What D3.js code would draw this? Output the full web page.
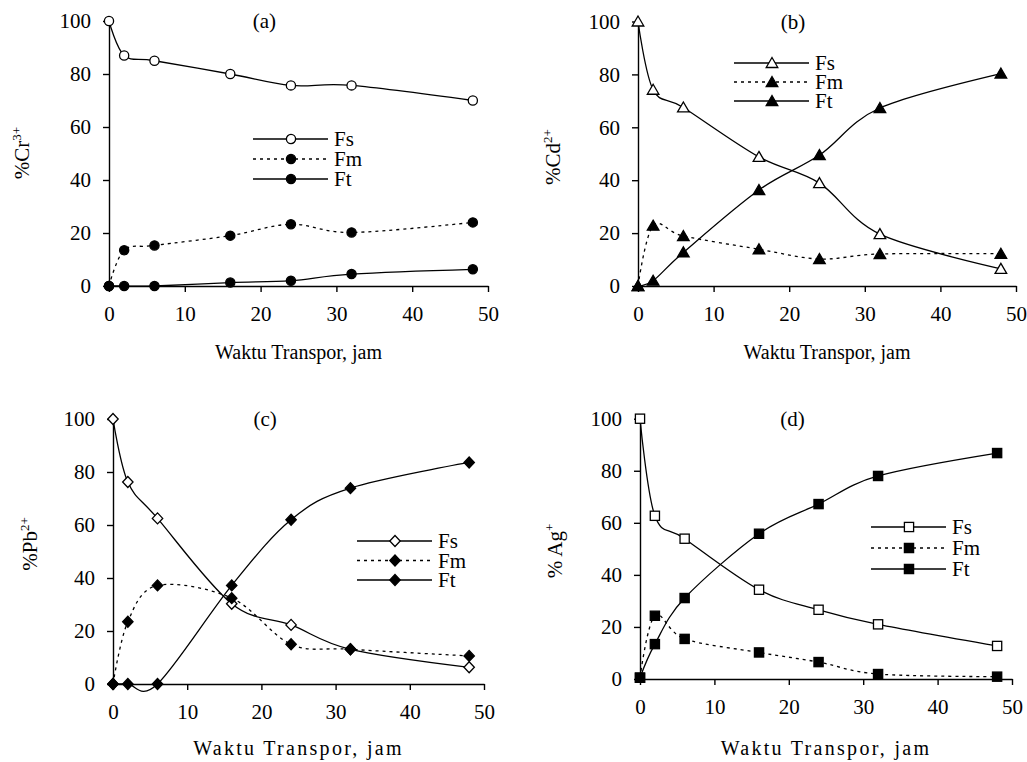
<!DOCTYPE html>
<html>
<head>
<meta charset="utf-8">
<script src="https://cdn.jsdelivr.net/npm/d3@7"></script>
<style>
  body { margin: 0; background: #fff; }
  svg { display: block; }
</style>
</head>
<body>
<svg class="chart" width="1027" height="762"></svg>
<script>
const FONT = "'Liberation Serif', 'Times New Roman', serif";

// data
const times = [0, 2, 6, 16, 24, 32, 48];
const seriesNames = ["Fs", "Fm", "Ft"];
const xTicks = [0, 10, 20, 30, 40, 50];
const yTicks = [0, 20, 40, 60, 80, 100];
const panelLabels = ["(a)", "(b)", "(c)", "(d)"];
const ionNames = ["Cr", "Cd", "Pb", "Ag"];
const ionCharges = ["3+", "2+", "2+", "+"];
const xTitle = "Waktu Transpor, jam";

const crFs = [100, 87, 85, 80, 75.7, 75.7, 70];
const crFm = [0, 13.5, 15.3, 19, 23.3, 20.2, 24];
const crFt = [0, 0, 0, 1.3, 2, 4.5, 6.3];

const cdFs = [100, 74.2, 67.5, 48.8, 38.9, 19.6, 6.5];
const cdFm = [0, 22.8, 18.9, 13.9, 10.2, 12.1, 12.2];
const cdFt = [0, 2, 12.7, 36.3, 49.5, 67.3, 80.3];

const pbFs = [100, 76.2, 62.5, 30.3, 22.3, 13.1, 6.3];
const pbFm = [0, 23.5, 37.2, 32.4, 15, 13.1, 10.6];
const pbFt = [0, 0, 0, 37.2, 62, 73.9, 83.6];

const agFs = [100, 62.7, 53.9, 34.3, 26.6, 21, 12.7];
const agFm = [0.5, 24.3, 15.4, 10.2, 6.5, 1.9, 0.9];
const agFt = [0.5, 13.4, 31.1, 55.8, 67.2, 78, 86.8];

// layout of each panel (pixels)
var panels = [
  { series: [crFs, crFm, crFt], marker: "circle",
    left: 109, right: 488, top: 21, bottom: 286,
    ylabX: 22, ylabY: 153, titleY: 359, titleSpacing: 0,
    legX: 253, legY: 139, legStep: 20 },
  { series: [cdFs, cdFm, cdFt], marker: "triangle",
    left: 638, right: 1016, top: 21.5, bottom: 286,
    ylabX: 553, ylabY: 157, titleY: 359, titleSpacing: 0,
    legX: 734, legY: 63, legStep: 19 },
  { series: [pbFs, pbFm, pbFt], marker: "diamond",
    left: 113, right: 484, top: 419, bottom: 684,
    ylabX: 30, ylabY: 544, titleY: 755, titleSpacing: 2.3,
    legX: 357, legY: 541, legStep: 19.5 },
  { series: [agFs, agFm, agFt], marker: "square",
    left: 640, right: 1012, top: 418.7, bottom: 679,
    ylabX: 555, ylabY: 551, titleY: 755, titleSpacing: 2.3,
    legX: 871, legY: 527, legStep: 21 }
];

var chart = d3.select(".chart");

function drawMarker(g, type, cx, cy, filled) {
  var fill = filled ? "#000" : "#fff";
  var m;
  if (type === "circle") {
    m = g.append("circle").attr("cx", cx).attr("cy", cy).attr("r", 4.6);
  } else if (type === "triangle") {
    m = g.append("path").attr("d", "M" + cx + "," + (cy - 5.5) + "L" + (cx + 5.8) + "," + (cy + 4.5) + "L" + (cx - 5.8) + "," + (cy + 4.5) + "Z");
  } else if (type === "diamond") {
    m = g.append("path").attr("d", "M" + cx + "," + (cy - 5.5) + "L" + (cx + 5.2) + "," + cy + "L" + cx + "," + (cy + 5.5) + "L" + (cx - 5.2) + "," + cy + "Z");
  } else {
    m = g.append("rect").attr("x", cx - 4.6).attr("y", cy - 4.6).attr("width", 9.2).attr("height", 9.2);
  }
  m.attr("fill", fill).attr("stroke", "#000").attr("stroke-width", 1.3);
}

panels.forEach(function(p, pi) {
  var x = d3.scaleLinear().domain([0, 50]).range([p.left, p.right]);
  var y = d3.scaleLinear().domain([0, 100]).range([p.bottom, p.top]);
  var g = chart.append("g");

  // axes
  var xAxis = g.append("g")
     .attr("transform", "translate(0," + p.bottom + ")")
     .call(d3.axisBottom(x).tickValues(xTicks).tickSize(6).tickPadding(10).tickSizeOuter(0));
  var yAxis = g.append("g")
     .attr("transform", "translate(" + p.left + ",0)")
     .call(d3.axisLeft(y).tickValues(yTicks).tickSize(6).tickPadding(12).tickSizeOuter(0));
  [xAxis, yAxis].forEach(function(a) {
    a.select(".domain").attr("stroke", "#000").attr("stroke-width", 1.4);
    a.selectAll(".tick line").attr("stroke", "#000").attr("stroke-width", 1.4);
    a.selectAll(".tick text").attr("font-family", FONT).attr("font-size", "21px").attr("fill", "#000");
  });
  xAxis.selectAll(".tick text").attr("dy", "0.9em");

  // panel label
  g.append("text")
   .attr("x", x(20.5)).attr("y", p.top + 7)
   .attr("text-anchor", "middle")
   .attr("font-family", FONT).attr("font-size", "21px")
   .text(panelLabels[pi]);

  // x title
  g.append("text")
   .attr("x", x(25)).attr("y", p.titleY)
   .attr("text-anchor", "middle")
   .attr("font-family", FONT).attr("font-size", "20px")
   .attr("letter-spacing", p.titleSpacing)
   .text(xTitle);

  // y title
  var yl = g.append("text")
   .attr("transform", "translate(" + p.ylabX + "," + p.ylabY + ") rotate(-90)")
   .attr("text-anchor", "middle")
   .attr("dominant-baseline", "central")
   .attr("font-family", FONT).attr("font-size", "21px");
  yl.append("tspan").text(pi === 3 ? "% " + ionNames[pi] : "%" + ionNames[pi]);
  yl.append("tspan").attr("dy", "-0.5em").attr("font-size", "13px").text(ionCharges[pi]);

  // lines
  var line = d3.line()
     .x(function(d) { return x(d[0]); })
     .y(function(d) { return y(d[1]); })
     .curve(d3.curveCardinal.tension(0));

  p.series.forEach(function(vals, si) {
    var pts = times.map(function(t, i) { return [t, vals[i]]; });
    g.append("path")
     .attr("d", line(pts))
     .attr("fill", "none")
     .attr("stroke", "#000")
     .attr("stroke-width", 1.3)
     .attr("stroke-dasharray", si === 1 ? "3,4" : null);
  });
  p.series.forEach(function(vals, si) {
    times.forEach(function(t, i) {
      drawMarker(g, p.marker, x(t), y(vals[i]), si !== 0);
    });
  });

  // legend
  var leg = g.append("g").attr("transform", "translate(" + p.legX + "," + p.legY + ")");
  seriesNames.forEach(function(name, si) {
    var row = leg.append("g").attr("transform", "translate(0," + si * p.legStep + ")");
    row.append("line")
       .attr("x1", 0).attr("x2", 75).attr("y1", 0).attr("y2", 0)
       .attr("stroke", "#000").attr("stroke-width", 1.3)
       .attr("stroke-dasharray", si === 1 ? "3,4" : null);
    drawMarker(row, p.marker, 38, 0, si !== 0);
    row.append("text")
       .attr("x", 81).attr("y", 0).attr("dy", "0.35em")
       .attr("font-family", FONT).attr("font-size", "21px")
       .text(name);
  });
});
</script>
</body>
</html>
